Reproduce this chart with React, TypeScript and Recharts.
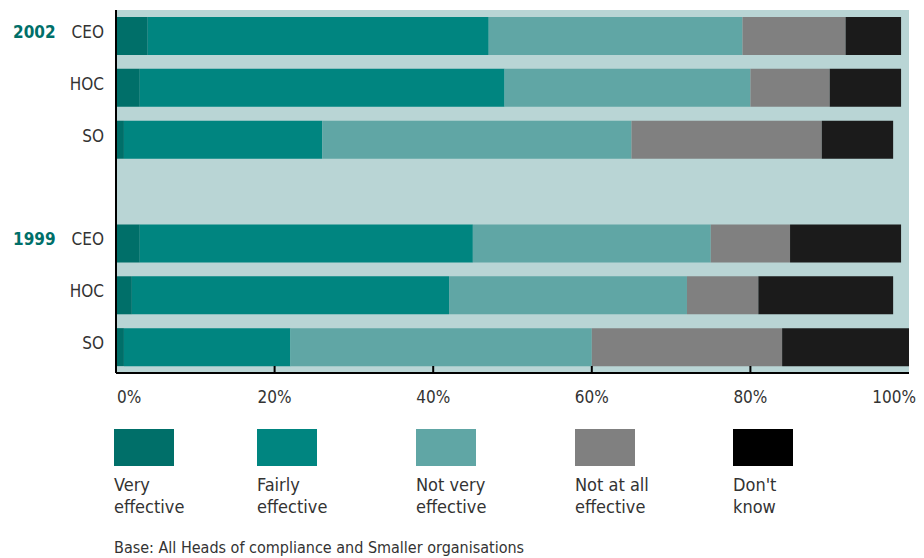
import React from 'react';
import { BarChart, Bar, XAxis, YAxis, CartesianGrid } from 'recharts';

// Rows top to bottom; the empty row is the gap between the two survey years
const rowYears = ['2002', '', '', '', '1999', '', ''];
const rowRoles = ['CEO', 'HOC', 'SO', '', 'CEO', 'HOC', 'SO'];

// Share of respondents (%) per answer
const veryEffective = [4, 3, 1, null, 3, 2, 1];
const fairlyEffective = [43, 46, 25, null, 42, 40, 21];
const notVeryEffective = [32, 31, 39, null, 30, 30, 38];
const notAtAllEffective = [13, 10, 24, null, 10, 9, 24];
const dontKnow = [7, 9, 9, null, 14, 17, 16];

const xTicks = [0, 20, 40, 60, 80, 100];

const seriesNames = [
  ['Very', 'effective'],
  ['Fairly', 'effective'],
  ['Not very', 'effective'],
  ['Not at all', 'effective'],
  ["Don't", 'know'],
];

const FONT = '"Liberation Sans Narrow", "DejaVu Sans Condensed", "Open Sans", sans-serif';
const TEXT = '#333333';
const TEAL_DARK = '#006F69';
const BG = '#B9D5D5';

const series = [
  { key: 'very', color: TEAL_DARK, legend: TEAL_DARK },
  { key: 'fairly', color: '#008580', legend: '#008580' },
  { key: 'notVery', color: '#60A6A5', legend: '#60A6A5' },
  { key: 'notAtAll', color: '#808080', legend: '#808080' },
  { key: 'dontKnow', color: '#1B1B1B', legend: '#000000' },
];

const data = rowRoles.map((role, i) => ({
  key: `r${i}`,
  very: veryEffective[i],
  fairly: fairlyEffective[i],
  notVery: notVeryEffective[i],
  notAtAll: notAtAllEffective[i],
  dontKnow: dontKnow[i],
}));

const legendLeft = [114, 257, 416, 575, 733];

function RowTick({ x, y, payload }: any) {
  const i = Number(String(payload.value).slice(1));
  return (
    <g>
      {rowYears[i] && (
        <text x={13} y={y} dy={2} fill={TEAL_DARK} fontWeight="bold" fontSize={17} fontFamily={FONT}>
          {rowYears[i]}
        </text>
      )}
      <text x={104} y={y} dy={2} textAnchor="end" fill={TEXT} fontSize={17} fontFamily={FONT}>
        {rowRoles[i]}
      </text>
    </g>
  );
}

function PercentTick({ x, y, payload }: any) {
  const v = payload.value;
  const anchor = v === 0 ? 'start' : v === 100 ? 'end' : 'middle';
  const tx = v === 0 ? x + 1 : v === 100 ? x + 7 : x;
  return (
    <g>
      {v !== 0 && v !== 100 && <line x1={x} x2={x} y1={y - 7} y2={y} stroke="#000" strokeWidth={2} />}
      <text x={tx} y={y + 30} textAnchor={anchor} fill={TEXT} fontSize={17} fontFamily={FONT}>
        {`${v}%`}
      </text>
    </g>
  );
}

export default function App() {
  return (
    <div style={{ position: 'absolute', left: 0, top: 0, width: 924, height: 558, background: '#fff', fontFamily: FONT }}>
      <BarChart
        width={924}
        height={420}
        data={data}
        layout="vertical"
        margin={{ top: 10, right: 15, left: 0, bottom: 7 }}
        barSize={38}
      >
        <CartesianGrid fill={BG} stroke="none" horizontal={false} vertical={false} />
        <XAxis
          type="number"
          domain={[0, 100]}
          ticks={xTicks}
          height={40}
          tickLine={false}
          tickSize={0}
          tickMargin={0}
          axisLine={{ stroke: '#000', strokeWidth: 2 }}
          tick={<PercentTick />}
          interval={0}
        />
        <YAxis
          type="category"
          dataKey="key"
          width={116}
          tickLine={false}
          axisLine={{ stroke: '#000', strokeWidth: 2 }}
          tick={<RowTick />}
          interval={0}
        />
        {series.map((s) => (
          <Bar key={s.key} dataKey={s.key} stackId="a" fill={s.color} isAnimationActive={false} />
        ))}
      </BarChart>
      {series.map((s, i) => (
        <div key={s.key} style={{ position: 'absolute', left: legendLeft[i], top: 429 }}>
          <div style={{ width: 60, height: 37, background: s.legend }} />
          <div style={{ marginTop: 8, fontSize: 18, lineHeight: '22px', color: TEXT }}>
            {seriesNames[i][0]}
            <br />
            {seriesNames[i][1]}
          </div>
        </div>
      ))}
      <div style={{ position: 'absolute', left: 114, top: 538, fontSize: 16, color: TEXT }}>
        Base: All Heads of compliance and Smaller organisations
      </div>
    </div>
  );
}
